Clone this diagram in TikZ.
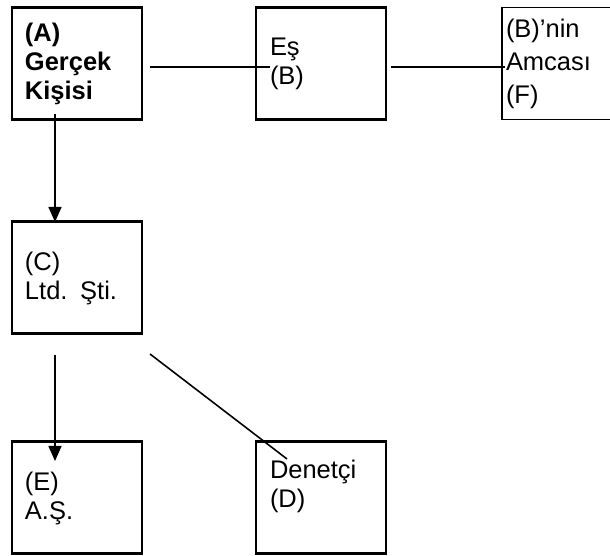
\documentclass[tikz,border=0pt]{standalone}
\usepackage{fontspec}
\setmainfont{Liberation Sans}
\usetikzlibrary{arrows.meta}

\begin{document}
\begin{tikzpicture}[
    box/.style={draw=black, line width=1.7pt, outer sep=0pt, inner ysep=0pt,
        inner xsep=0.26cm, text width=2.08cm, minimum height=2.24cm, align=left,
        font=\fontsize{14.5}{16.5}\selectfont},
    link/.style={line width=0.9pt},
    arr/.style={line width=0.9pt, -{Triangle[width=0.26cm, length=0.3cm]}}
]
    \useasboundingbox (0,0) rectangle (12.2,11.12);

    \node[box] (A) at (1.54,9.85) {\textbf{(A)}\\\textbf{Gerçek}\\\textbf{Kişisi}};
    \node[box, inner xsep=0.28cm, text width=2.04cm] (B) at (6.42,9.85) {Eş\\(B)};
    \node[box, line width=1.1pt, inner xsep=0.08cm, text width=2.44cm,
        font=\fontsize{14.5}{18.8}\selectfont] (F) at (11.34,9.85) {(B)’nin\\Amcası\\(F)};
    \node[box] (C) at (1.54,5.56) {(C)\\Ltd. Şti.};
    \node[box] (E) at (1.54,1.16) {(E)\\A.Ş.};
    \node[box, inner xsep=0.28cm, text width=2.04cm] (D) at (6.42,1.16) {Denetçi\\(D)\\\mbox{}};

    \draw[link] ([xshift=0.16cm,yshift=-0.07cm]A.east) -- ([xshift=0.28cm,yshift=-0.07cm]B.west);
    \draw[link] ([xshift=0.1cm,yshift=-0.07cm]B.east) -- ([xshift=0.06cm,yshift=-0.07cm]F.west);

    \draw[arr] ([xshift=-0.44cm,yshift=0.1cm]A.south) -- ([xshift=-0.44cm]C.north);
    \draw[arr] ([xshift=-0.44cm,yshift=-0.42cm]C.south) -- ([xshift=-0.44cm,yshift=-0.38cm]E.north);
    \draw[link] ([xshift=0.16cm,yshift=-0.4cm]C.south east) -- ([xshift=0.62cm,yshift=-0.34cm]D.north west);
\end{tikzpicture}
\end{document}
